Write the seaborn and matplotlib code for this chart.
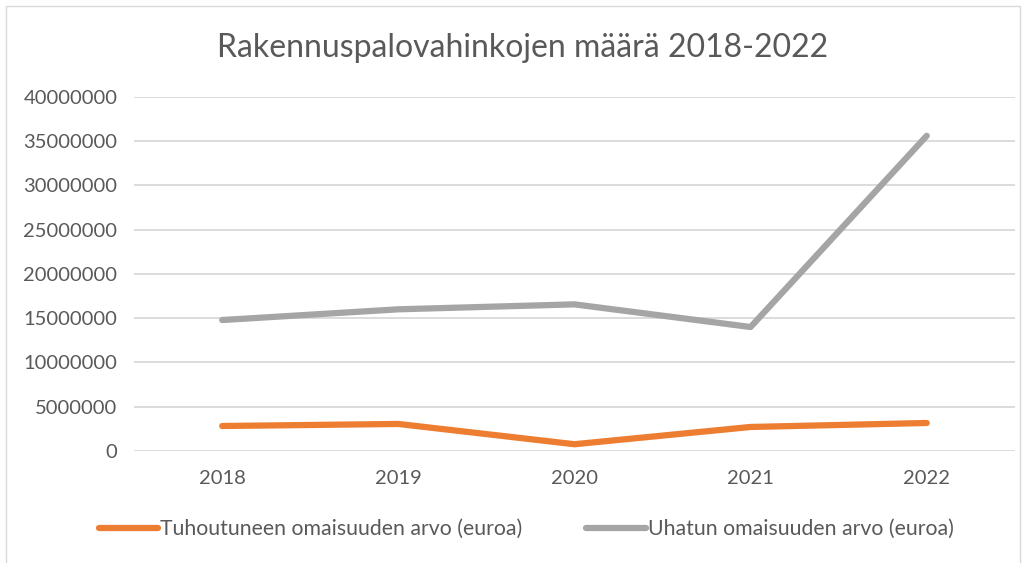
import pandas as pd
import matplotlib.pyplot as plt
import seaborn as sns

# data
vuodet = ['2018', '2019', '2020', '2021', '2022']
tuhoutunut = [2820000, 3050000, 760000, 2710000, 3160000]
uhattu = [14790000, 16000000, 16560000, 14000000, 35600000]
sarjat = ['Tuhoutuneen omaisuuden arvo (euroa)', 'Uhatun omaisuuden arvo (euroa)']

df = pd.DataFrame({
    'Vuosi': vuodet * 2,
    'Arvo': tuhoutunut + uhattu,
    'Sarja': [sarjat[0]] * len(vuodet) + [sarjat[1]] * len(vuodet),
})

sns.set_style('white')
plt.rcParams['font.family'] = ['Lato', 'DejaVu Sans']

fig = plt.figure(figsize=(10.24, 5.63), dpi=100)
ax = fig.add_axes([0.131, 0.199, 0.86, 0.629])

sns.lineplot(data=df, x='Vuosi', y='Arvo', hue='Sarja',
             palette=['#ED7D31', '#A5A5A5'], linewidth=4.5,
             sort=False, ax=ax, legend=False)

ax.set_xlim(-0.5, 4.5)
ax.set_ylim(0, 40000000)
ax.set_yticks(range(0, 40000001, 5000000))
ax.set_yticklabels([str(v) for v in range(0, 40000001, 5000000)])
ax.yaxis.grid(True, color='#D9D9D9', linewidth=1.3)
ax.set_axisbelow(True)
for s in ax.spines.values():
    s.set_visible(False)
ax.tick_params(axis='both', length=0, labelsize=14.5, colors='#595959')
ax.tick_params(axis='x', pad=14)
ax.tick_params(axis='y', pad=12)
ax.set_xlabel('')
ax.set_ylabel('')

fig.text(0.51, 0.915, 'Rakennuspalovahinkojen määrä 2018-2022',
         ha='center', va='center', fontsize=23, color='#595959')

# legend
handles = [plt.Line2D([0], [0], color=c, linewidth=4.5, solid_capstyle='round')
           for c in ['#ED7D31', '#A5A5A5']]
fig.legend(handles, sarjat, loc='center', bbox_to_anchor=(0.514, 0.06), ncol=2,
           frameon=False, fontsize=15.3, labelcolor='#595959',
           handlelength=2.8, handletextpad=0.1, columnspacing=3.0)

# chart border
fig.add_artist(plt.Rectangle((0.006, -0.01), 0.99, 1.0, transform=fig.transFigure,
                             fill=False, edgecolor='#D9D9D9', linewidth=1))

fig.savefig('out.png', dpi=100)
